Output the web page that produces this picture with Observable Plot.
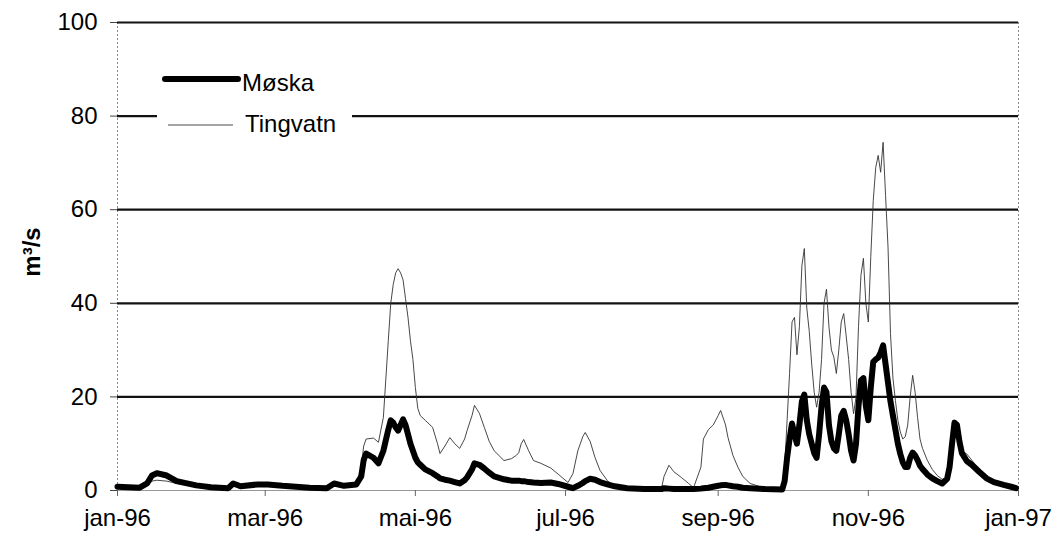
<!DOCTYPE html>
<html><head><meta charset="utf-8">
<script src="https://cdn.jsdelivr.net/npm/d3@7"></script>
<script src="https://cdn.jsdelivr.net/npm/@observablehq/plot@0.6"></script>
<style>
body{margin:0;background:#fff;font-family:"Liberation Sans",Arial,sans-serif;}
#wrap{position:relative;width:1060px;height:546px;}
</style></head><body><div id="wrap"></div>
<script>
const dates = ["1996-01-01","1996-01-10","1996-01-13","1996-01-15","1996-01-17","1996-01-21","1996-01-25","1996-02-02","1996-02-08","1996-02-15","1996-02-17","1996-02-20","1996-02-27","1996-03-02","1996-03-08","1996-03-19","1996-03-26","1996-03-29","1996-04-02","1996-04-07","1996-04-09","1996-04-10","1996-04-11","1996-04-14","1996-04-16","1996-04-18","1996-04-20","1996-04-21","1996-04-22","1996-04-23","1996-04-24","1996-04-25","1996-04-26","1996-04-27","1996-04-28","1996-04-29","1996-04-30","1996-05-01","1996-05-02","1996-05-03","1996-05-05","1996-05-08","1996-05-10","1996-05-11","1996-05-13","1996-05-15","1996-05-17","1996-05-19","1996-05-21","1996-05-22","1996-05-24","1996-05-25","1996-05-27","1996-05-29","1996-05-31","1996-06-02","1996-06-06","1996-06-09","1996-06-11","1996-06-12","1996-06-13","1996-06-14","1996-06-16","1996-06-18","1996-06-21","1996-06-25","1996-06-28","1996-07-02","1996-07-04","1996-07-06","1996-07-08","1996-07-09","1996-07-11","1996-07-13","1996-07-15","1996-07-18","1996-07-21","1996-07-26","1996-08-02","1996-08-09","1996-08-10","1996-08-12","1996-08-14","1996-08-17","1996-08-20","1996-08-22","1996-08-25","1996-08-26","1996-08-28","1996-08-30","1996-09-01","1996-09-02","1996-09-04","1996-09-05","1996-09-07","1996-09-09","1996-09-11","1996-09-14","1996-09-20","1996-09-27","1996-09-28","1996-09-29","1996-09-30","1996-10-01","1996-10-02","1996-10-03","1996-10-04","1996-10-05","1996-10-06","1996-10-07","1996-10-08","1996-10-09","1996-10-10","1996-10-11","1996-10-12","1996-10-13","1996-10-14","1996-10-15","1996-10-16","1996-10-17","1996-10-18","1996-10-19","1996-10-20","1996-10-21","1996-10-22","1996-10-23","1996-10-24","1996-10-25","1996-10-26","1996-10-27","1996-10-28","1996-10-29","1996-10-30","1996-10-31","1996-11-01","1996-11-02","1996-11-03","1996-11-04","1996-11-05","1996-11-06","1996-11-07","1996-11-08","1996-11-09","1996-11-10","1996-11-11","1996-11-12","1996-11-13","1996-11-14","1996-11-15","1996-11-16","1996-11-17","1996-11-18","1996-11-19","1996-11-20","1996-11-21","1996-11-22","1996-11-23","1996-11-25","1996-11-27","1996-11-29","1996-12-01","1996-12-03","1996-12-04","1996-12-05","1996-12-06","1996-12-07","1996-12-08","1996-12-09","1996-12-11","1996-12-13","1996-12-16","1996-12-19","1996-12-22","1996-12-26","1996-12-29","1996-12-31"];

const moska = [0.8,0.6,1.5,3.2,3.7,3.2,2.0,1.1,0.7,0.5,1.5,0.9,1.3,1.3,1.0,0.6,0.5,1.5,1.0,1.3,3.0,6.5,7.9,7.0,5.8,8.5,13,15,14.5,13.5,12.8,14,15.2,14,12,10,8.5,7,6,5.5,4.5,3.7,3.0,2.6,2.3,2.1,1.8,1.5,2.2,2.8,4.5,5.8,5.5,4.7,3.8,3.0,2.4,2.1,2.1,2.1,2.0,2.0,1.8,1.7,1.6,1.7,1.4,0.8,0.5,1.0,1.6,2.0,2.5,2.3,1.8,1.3,0.9,0.5,0.3,0.3,0.5,0.4,0.3,0.3,0.3,0.3,0.4,0.5,0.6,0.8,1.0,1.1,1.2,1.1,0.9,0.8,0.6,0.5,0.3,0.2,2,7,11,14.3,12,10,14,19,20.5,15,12,10,8,7,12,18,22,21,14,10.5,9,8.5,12,16,17,15,12,8.5,6.4,10,18,23.5,24,18,15,22,27.5,28,28.4,29.5,31,27,23,19,16,13,10,7.8,6,5,5,7,8.1,7.5,6.5,5.3,4.6,3.4,2.6,2.0,1.5,2.5,5,10,14.5,14,10.5,8,6.3,5.5,4.0,2.6,1.8,1.2,0.8,0.5];

const tingvatn = [0.6,0.4,1.0,2.0,2.2,2.0,1.5,0.8,0.5,0.4,1.0,0.7,1.0,1.0,0.8,0.5,0.4,1.0,0.8,1.0,5.0,9.5,11,11.2,10.3,15.6,32,40,44,46.5,47.4,46.5,45,41,37,32,28,22,17.5,16,15,13.5,10,7.9,9.5,11.3,10,9,11,12.8,16,18.2,16.5,13.5,10.5,8.5,6.4,6.8,7.5,8.1,10,10.9,8.5,6.4,5.8,4.8,3.5,1.7,3.6,8.5,11.5,12.4,10.5,7.0,4.3,2.1,0.9,0.4,0.3,0.5,3.0,5.4,4.0,2.8,1.5,0.6,5.0,11,13,14,16,17.1,14,11.3,7.5,5.0,3.0,1.5,0.5,0.3,5,15,25,36,37,29,35,48,51.7,39,34,27,21,17.8,21,28,40,43,35,30,28.5,25,30,36,37.8,33,28,21,16.4,20,35,46,49.6,40,36,50,62,69,71.6,68,74.4,63,52,33.5,24,19.2,15,12.5,11,11.5,14,20,24.6,21,15.6,11,9,6.4,4.5,3.2,2.4,2.5,5,10,14.5,14,10.5,8.5,7.8,6.5,4.5,2.8,1.9,1.2,0.8,0.5];

const seriesNames = ["Møska", "Tingvatn"];
const yTicks = [0, 20, 40, 60, 80, 100];
const tickDates = ["1996-01-01","1996-03-01","1996-05-01","1996-07-01","1996-09-01","1996-11-01","1997-01-01"];
const tickLabels = ["jan-96","mar-96","mai-96","jul-96","sep-96","nov-96","jan-97"];
const yLabel = "m³/s";

const data = dates.map((d, i) => ({date: new Date(d), moska: moska[i], ting: tingvatn[i]}));
const xTicks = tickDates.map(s => new Date(s));
const labelMap = new Map(xTicks.map((d, i) => [d.getTime(), tickLabels[i]]));
const xDomain = [xTicks[0], xTicks[xTicks.length - 1]];
const FONT = '"Liberation Sans", Arial, sans-serif';

const chart = Plot.plot({
  width: 1060, height: 546,
  marginLeft: 117, marginRight: 42, marginTop: 22, marginBottom: 56,
  style: {fontFamily: FONT, fontSize: "24px", color: "#000", background: "#fff"},
  x: {type: "utc", domain: xDomain},
  y: {domain: [0, 100]},
  marks: [
    Plot.ruleX(xDomain, {stroke: "#888", strokeWidth: 1, strokeDasharray: "2,2"}),
    Plot.ruleY([0], {stroke: "#999", strokeWidth: 1}),
    Plot.gridY(yTicks.filter(v => v > 0), {stroke: "#111", strokeOpacity: 1, strokeWidth: 2.2}),
    Plot.axisY({ticks: yTicks, tickSize: 7, tickPadding: 13, tickFormat: d => String(d), label: null, fontSize: 24, stroke: "#444"}),
    Plot.axisX({ticks: xTicks, tickSize: 6, tickPadding: 12, tickFormat: d => labelMap.get(d.getTime()), label: null, fontSize: 24, stroke: "#666"}),
    Plot.lineY(data, {x: "date", y: "ting", stroke: "#333", strokeWidth: 0.9}),
    Plot.lineY(data, {x: "date", y: "moska", stroke: "#000", strokeWidth: 6, strokeLinejoin: "round", strokeLinecap: "round"})
  ]
});
document.getElementById("wrap").appendChild(chart);

const svg = d3.select(chart);
svg.append("text")
  .attr("transform", "translate(40,252) rotate(-90)")
  .attr("text-anchor", "middle")
  .attr("font-family", FONT)
  .attr("font-size", 24).attr("font-weight", "bold")
  .attr("fill", "#000")
  .text(yLabel);

const lg = svg.append("g").attr("text-anchor", "start");
lg.append("rect").attr("x", 157).attr("y", 58).attr("width", 195).attr("height", 84).attr("fill", "#fff");
lg.append("line").attr("x1", 165).attr("x2", 238).attr("y1", 79).attr("y2", 79)
  .attr("stroke", "#000").attr("stroke-width", 6).attr("stroke-linecap", "round");
lg.append("text").attr("x", 242).attr("y", 91).attr("font-size", 24).attr("text-anchor", "start")
  .attr("font-family", FONT).attr("fill", "#000").text(seriesNames[0]);
lg.append("line").attr("x1", 168).attr("x2", 233).attr("y1", 125).attr("y2", 125)
  .attr("stroke", "#333").attr("stroke-width", 0.9);
lg.append("text").attr("x", 245).attr("y", 132).attr("font-size", 24).attr("text-anchor", "start")
  .attr("font-family", FONT).attr("fill", "#000").text(seriesNames[1]);
</script></body></html>
